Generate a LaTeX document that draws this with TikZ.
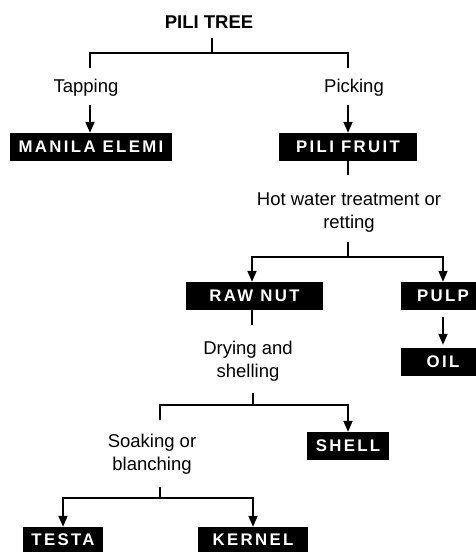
\documentclass[tikz,border=0pt]{standalone}
\usepackage{fontspec}
\setmainfont{Liberation Sans}
\newfontfamily\spacedfont{Liberation Sans}[LetterSpace=14]
\usetikzlibrary{arrows.meta}
\begin{document}
\begin{tikzpicture}[x=1pt,y=-1pt,
  box/.style={fill=black,text=white,inner sep=0pt,minimum height=28pt,
    font=\spacedfont\bfseries\fontsize{16.8}{18}\selectfont},
  lbl/.style={font=\fontsize{18.5}{23}\selectfont,align=center,inner sep=0pt},
  ln/.style={line width=1.8pt},
  arr/.style={ln,-{Triangle[width=9pt,length=11pt]}},
  arr2/.style={ln,{Triangle[width=9pt,length=11pt]}-{Triangle[width=9pt,length=11pt]}}]
\useasboundingbox (0,0) rectangle (475,552);
% nodes
\node[lbl,font=\bfseries\fontsize{18.5}{20}\selectfont,anchor=base] (tree) at (209,28) {PILI TREE};
\node[lbl,anchor=base] (tap) at (86,92) {Tapping};
\node[lbl,anchor=base] (pick) at (354,92) {Picking};
\node[box,minimum width=162pt] (me) at (91,147) {MANILA ELEMI};
\node[box,minimum width=138pt] (pf) at (348,147) {PILI FRUIT};
\node[lbl,anchor=base] (hot) at (349,228) {Hot water treatment or\\retting};
\node[box,minimum width=137pt] (rn) at (254.5,296) {RAW NUT};
\node[box,minimum width=84pt] (pulp) at (443,296) {PULP};
\node[box,minimum width=84pt] (oil) at (443,362) {OIL};
\node[lbl,anchor=base] (dry) at (248,377) {Drying and\\shelling};
\node[box,minimum width=82pt] (shell) at (348,446) {SHELL};
\node[lbl,anchor=base] (soak) at (152,470) {Soaking or\\blanching};
\node[box,minimum width=80pt,minimum height=25pt] (testa) at (63,539.5) {TESTA};
\node[box,minimum width=110pt,minimum height=25pt] (kernel) at (253,539.5) {KERNEL};
% junction coordinates
\coordinate (t0) at (212,38);
\coordinate (j1) at (212,53);
\coordinate (l1) at (90,68);
\coordinate (r1) at (348,68);
\coordinate (l2) at (90,105);
\coordinate (r2) at (348,105);
\coordinate (h0) at (348,175);
\coordinate (h1) at (348,242);
\coordinate (h2) at (348,257);
\coordinate (d0) at (252,325);
\coordinate (d1) at (253,393);
\coordinate (d2) at (253,405);
\coordinate (s1) at (160,420);
\coordinate (s2) at (160,487);
\coordinate (s3) at (160,498);
% connectors
\draw[ln] (t0) -- (j1);
\draw[ln] (l1) |- (j1) -| (r1);
\draw[arr] (l2) -- (l2 |- me.north);
\draw[arr] (r2) -- (r2 |- pf.north);
\draw[ln] (pf.south) -- (h0);
\draw[ln] (h1) -- (h2);
\draw[arr2] (d0 |- rn.north) |- (h2) -| (pulp.north);
\draw[ln] (d0 |- rn.south) -- (d0);
\draw[arr,shorten <=7pt,shorten >=3pt] (pulp.south) -- (oil.north);
\draw[ln] (d1) -- (d2);
\draw[arr] (s1) |- (d2) -| (shell.north);
\draw[ln] (s2) -- (s3);
\draw[arr2] (testa.north) |- (s3) -| (kernel.north);
\end{tikzpicture}
\end{document}
